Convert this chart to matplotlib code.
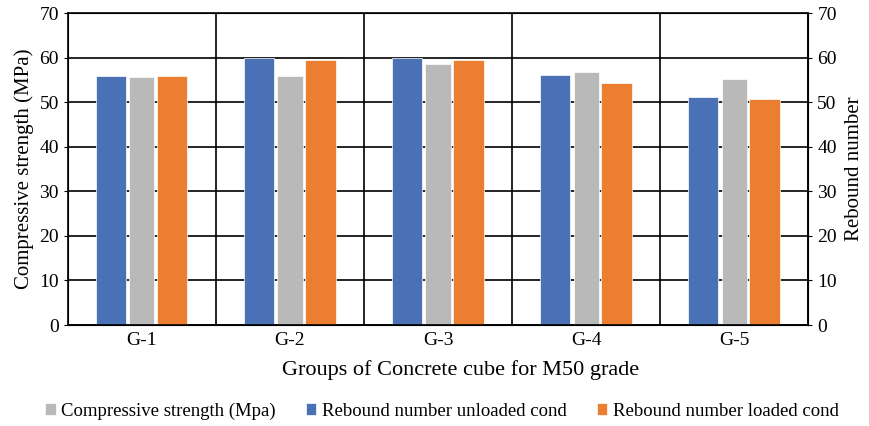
import matplotlib.pyplot as plt
import numpy as np

plt.rcParams['font.family'] = ['Liberation Serif', 'DejaVu Serif']

groups = ["G-1", "G-2", "G-3", "G-4", "G-5"]
compressive = [55.7, 56.0, 58.5, 56.9, 55.2]
rebound_unloaded = [55.9, 60.0, 60.0, 56.1, 51.1]
rebound_loaded = [55.9, 59.4, 59.5, 54.4, 50.8]

x = np.arange(len(groups))

fig = plt.figure(figsize=(8.7, 4.26), dpi=100)
ax = fig.add_axes([0.078, 0.237, 0.851, 0.732])

# grid
ax.set_axisbelow(True)
ax.set_xticks(x + 0.5, minor=True)
ax.grid(True, which="major", axis="y", color="black", lw=1.2)
ax.grid(True, which="minor", axis="x", color="black", lw=1.2)

ax.bar(x - 0.21, rebound_unloaded, 0.205, color="#4a70b6", edgecolor="white", lw=0.5,
       label="Rebound number unloaded cond")
ax.bar(x, compressive, 0.17, color="#b9b9b9", edgecolor="white", lw=0.5,
       label="Compressive strength (Mpa)")
ax.bar(x + 0.205, rebound_loaded, 0.205, color="#ec7e32", edgecolor="white", lw=0.5,
       label="Rebound number loaded cond")

ax.set_xlim(-0.5, 4.5)
ax.set_ylim(0, 70)
ax.set_yticks(range(0, 71, 10))
ax.set_xticks(x)
ax.set_xticklabels(groups)
ax.tick_params(axis="x", which="both", length=0, labelsize=14, pad=5)
ax.tick_params(axis="y", labelsize=14, length=3)
for s in ax.spines.values():
    s.set_color("black")
    s.set_linewidth(1.2)

ax.set_ylabel("Compressive strength (MPa)", fontsize=15, labelpad=4)
ax.set_xlabel("Groups of Concrete cube for M50 grade", fontsize=16, labelpad=8)
ax.xaxis.label.set_x(0.53)

ax2 = ax.twinx()
ax2.set_ylim(0, 70)
ax2.set_yticks(range(0, 71, 10))
ax2.tick_params(axis="y", labelsize=14, length=3)
ax2.set_ylabel("Rebound number", fontsize=15, labelpad=6)

h, l = ax.get_legend_handles_labels()
order = [1, 0, 2]
fig.legend([h[i] for i in order], [l[i] for i in order], loc="lower center",
           bbox_to_anchor=(0.508, -0.025), ncol=3, frameon=False, fontsize=13.5,
           handlelength=0.55, handleheight=0.55, handletextpad=0.3, columnspacing=1.6)

plt.savefig("out.png")
